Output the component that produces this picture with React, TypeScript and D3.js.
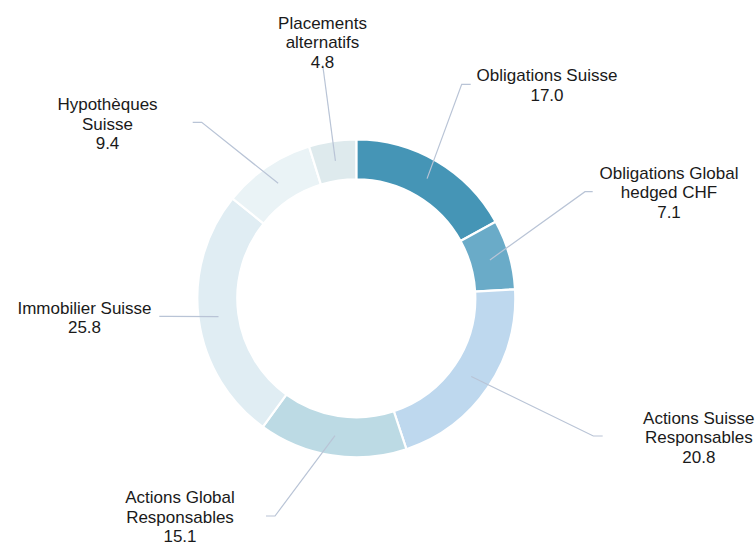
import React from "react";
import * as d3 from "d3";

const categories = [
  ["Obligations Suisse"],
  ["Obligations Global", "hedged CHF"],
  ["Actions Suisse", "Responsables"],
  ["Actions Global", "Responsables"],
  ["Immobilier Suisse"],
  ["Hypothèques", "Suisse"],
  ["Placements", "alternatifs"],
];
const values = [17.0, 7.1, 20.8, 15.1, 25.8, 9.4, 4.8];
const valueLabels = ["17.0", "7.1", "20.8", "15.1", "25.8", "9.4", "4.8"];
const colors = ["#4595b6", "#6aabc8", "#bed8ee", "#bcdae4", "#e0edf3", "#eaf3f6", "#deeaed"];

// label layout: elbow point, line end point, text center x, text middle y
const labelLayout = [
  { elbow: [461.7, 84.3], end: [470.7, 84.3], tx: 547, ty: 85 },
  { elbow: [585, 191.7], end: [592.7, 191.7], tx: 669, ty: 192.3 },
  { elbow: [593.3, 436], end: [602.7, 436], tx: 698.8, ty: 437.3 },
  { elbow: [275, 516], end: [266, 516], tx: 180, ty: 516.9 },
  { elbow: [168, 316.3], end: [159.3, 316.3], tx: 84.5, ty: 317.5 },
  { elbow: [201.7, 122.3], end: [192.7, 122.3], tx: 107.5, ty: 123.7 },
  { elbow: [322.7, 65], end: [322.7, 65], tx: 322.5, ty: 42.1 },
];

const W = 755;
const H = 545;
const CX = 356.3;
const CY = 298.3;
const R_OUT = 159;
const R_IN = 119;
const LINE_H = 19.5;

export default function App() {
  const pie = d3.pie<number>().sort(null).value((d) => d)(values);
  const arc = d3.arc<d3.PieArcDatum<number>>().innerRadius(R_IN).outerRadius(R_OUT);
  const midArc = d3
    .arc<d3.PieArcDatum<number>>()
    .innerRadius((R_IN + R_OUT) / 2)
    .outerRadius((R_IN + R_OUT) / 2);

  return (
    <svg
      width={W}
      height={H}
      style={{ position: "absolute", left: 0, top: 0, background: "#fff" }}
      fontFamily="'Liberation Sans', Arial, sans-serif"
    >
      <g transform={`translate(${CX},${CY})`}>
        {pie.map((d, i) => (
          <path key={i} d={arc(d) || ""} fill={colors[i]} stroke="#fff" strokeWidth={2.2} />
        ))}
      </g>
      {pie.map((d, i) => {
        const c = midArc.centroid(d);
        const L = labelLayout[i];
        const sx = CX + c[0];
        const sy = CY + c[1];
        const lines = [...categories[i], valueLabels[i]];
        const y0 = L.ty - ((lines.length - 1) * LINE_H) / 2;
        return (
          <g key={"l" + i}>
            <polyline
              points={`${sx},${sy} ${L.elbow[0]},${L.elbow[1]} ${L.end[0]},${L.end[1]}`}
              fill="none"
              stroke="#b9c4d6"
              strokeWidth={1.2}
            />
            <text textAnchor="middle" fontSize={17} fill="#1a1a1a">
              {lines.map((t, j) => (
                <tspan key={j} x={L.tx} y={y0 + j * LINE_H + 6}>
                  {t}
                </tspan>
              ))}
            </text>
          </g>
        );
      })}
    </svg>
  );
}
